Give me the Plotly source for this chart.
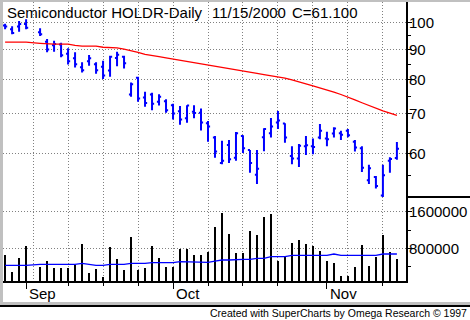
import math
import plotly.graph_objects as go

# ---- data (trading-day slots; slot 4 = Labor Day holiday gap) ----
slot = [0, 1, 2, 3, 5, 6, 7, 8, 9, 10, 11, 12, 13, 14, 15, 16, 17, 18, 19, 20,
        21, 22, 23, 24, 25, 26, 27, 28, 29, 30, 31, 32, 33, 34, 35, 36, 37, 38,
        39, 40, 41, 42, 43, 44, 45, 46, 47, 48, 49, 50, 51, 52, 53, 54, 55, 56]

open_ = [98.8, 97.4, 98.5, 99.4, 96.3, 92.8, 91.5, 91.8, 88.5, 87.0, 84.0, 86.0,
         85.0, 84.1, 82.9, 87.1, 87.5, 75.5, 80.6, 74.6, 75.5, 73.4, 73.5, 72.4,
         70.7, 68.8, 70.6, 70.3, 67.5, 63.8, 57.8, 62.0, 59.0, 64.2, 60.8, 55.2,
         63.9, 64.9, 67.7, 67.4, 59.4, 58.8, 61.7, 61.7, 63.8, 63.6, 64.8, 64.9,
         65.5, 62.8, 61.2, 54.0, 54.7, 50.9, 58.3, 58.9]
high = [99.5, 98.6, 100.6, 101.3, 97.8, 93.8, 93.1, 92.4, 90.4, 89.0, 85.6, 88.1,
        85.6, 86.1, 87.8, 89.2, 87.8, 79.1, 80.9, 76.3, 76.0, 75.6, 74.1, 72.8,
        72.2, 72.4, 72.4, 71.5, 68.1, 64.2, 63.0, 63.2, 65.2, 64.4, 60.8, 60.8,
        66.2, 68.9, 70.8, 67.5, 61.7, 62.2, 64.2, 63.6, 67.3, 65.3, 66.4, 65.5,
        66.0, 63.2, 61.7, 57.4, 54.9, 57.4, 59.1, 62.7]
low = [97.4, 95.5, 96.5, 97.4, 94.9, 89.0, 89.2, 87.3, 84.9, 83.9, 82.3, 84.5,
       81.9, 80.2, 80.9, 84.3, 83.6, 74.8, 73.4, 72.0, 71.0, 72.3, 70.3, 68.5,
       67.1, 67.6, 68.8, 65.6, 62.8, 59.0, 57.5, 57.8, 58.3, 60.1, 55.6, 53.2,
       60.5, 63.8, 66.0, 62.5, 57.5, 56.9, 59.6, 59.8, 63.4, 61.7, 63.8, 63.2,
       63.9, 60.4, 55.8, 53.2, 52.3, 50.6, 55.6, 58.5]
close = [98.5, 96.0, 99.4, 98.0, 95.5, 90.0, 92.0, 88.0, 86.0, 85.0, 83.0, 87.0,
         83.0, 81.3, 87.5, 88.2, 85.3, 78.6, 74.3, 73.0, 72.8, 74.8, 71.0, 70.1,
         68.5, 72.3, 70.2, 67.7, 66.6, 60.4, 58.3, 58.6, 64.9, 61.2, 57.8, 56.5,
         66.0, 66.6, 68.2, 63.8, 58.8, 61.8, 61.9, 61.5, 65.5, 63.4, 66.1, 64.5,
         64.4, 61.4, 56.7, 56.6, 52.8, 55.1, 58.7, 61.1]
price_ma = [92.6, 92.6, 92.6, 92.6, 92.2, 92.0, 91.9, 91.9, 91.9, 91.5, 91.2, 91.2,
            91.2, 90.8, 90.8, 90.6, 90.1, 89.6, 89.0, 88.3, 88.0, 87.5, 87.1, 86.7,
            86.3, 86.0, 85.6, 85.3, 84.9, 84.5, 84.0, 83.6, 83.2, 82.8, 82.4, 82.0,
            81.6, 81.2, 81.0, 80.5, 79.9, 79.2, 78.7, 78.1, 77.5, 76.9, 76.2, 75.5,
            74.8, 73.9, 73.1, 72.3, 71.6, 70.8, 70.2, 69.6]
volume = [654000, 291000, 596000, 851000, 400000, 524000, 371000, 371000, 371000,
          443000, 902000, 269000, 349000, 182000, 822000, 574000, 327000, 1054000,
          327000, 371000, 851000, 589000, 400000, 400000, 792000, 792000, 654000,
          654000, 727000, 1273000, 1578000, 1120000, 705000, 705000, 1178000,
          1098000, 1491000, 1549000, 531000, 618000, 923000, 982000, 902000,
          851000, 749000, 524000, 487000, 196000, 196000, 393000, 873000, 415000,
          611000, 1091000, 720000, 567000]
volume_ma = [430000] * 4 + [450000] * 6 + [470000, 450000, 430000, 430000] + \
            [450000] * 3 + [470000] * 3 + [490000] * 4 + [510000] * 4 + \
            [495000, 520000, 545000, 545000, 560000, 560000, 560000, 582000, 582000,
             618000, 618000, 618000] + [647000] * 6 + [676000] + [647000] * 6 + \
            [676000] * 3

grid_slots = [4, 9, 14, 19, 24, 29, 34, 39, 44, 49, 54]
month_slots = [3, 24, 46]
month_labels = ["Sep", "Oct", "Nov"]
week_slots = [9, 14, 19, 29, 34, 39, 54]
price_ticks = [60, 70, 80, 90, 100]
price_minor = [55, 65, 75, 85, 95]
vol_ticks = [800000, 1600000]
vol_minor = [400000, 1200000]
title_parts = ["Semiconductor HOLDR-Daily", "11/15/2000", "C=61.100"]
caption = "Created with SuperCharts by Omega Research \u00a9 1997"

# ---- geometry helpers (pixel -> paper) ----
W, H = 470, 320
L, R, T, B = 3, 64, 2, 39
PW, PH = W - L - R, H - T - B


def px(x):
    return (x - L) / PW


def py(y):
    return (H - B - y) / PH


split = py(197)
FONT = "Liberation Sans, Arial, sans-serif"
GRID = dict(showgrid=True, gridcolor="#808080", gridwidth=1, griddash="1px,2px")
xrange_ = [-0.3, 57.3]

fig = go.Figure()
fig.add_trace(go.Ohlc(x=slot, open=open_, high=high, low=low, close=close,
                      xaxis="x", yaxis="y",
                      increasing=dict(line=dict(color="#0000ff", width=2)),
                      decreasing=dict(line=dict(color="#0000ff", width=2)),
                      tickwidth=0.3, hoverinfo="skip"))
fig.add_trace(go.Scatter(x=slot, y=price_ma, mode="lines", xaxis="x", yaxis="y",
                         line=dict(color="#ff0000", width=1.3), hoverinfo="skip"))
fig.add_trace(go.Bar(x=slot, y=volume, xaxis="x", yaxis="y2", width=0.29,
                     marker=dict(color="#000000", line=dict(width=0)),
                     hoverinfo="skip"))
fig.add_trace(go.Scatter(x=slot, y=volume_ma, mode="lines", xaxis="x2", yaxis="y2",
                         line=dict(color="#0000ff", width=1.3), hoverinfo="skip"))

fig.update_layout(
    width=W, height=H, margin=dict(l=L, r=R, t=T, b=B, pad=0),
    paper_bgcolor="white", plot_bgcolor="white", showlegend=False,
    template="none", font=dict(family=FONT, size=15, color="black"),
    xaxis=dict(domain=[0, 1], anchor="y2", range=xrange_, tickmode="array",
               tickvals=grid_slots, ticks="", showticklabels=False,
               showline=True, linecolor="black", linewidth=2, zeroline=False,
               rangeslider=dict(visible=False), **GRID),
    xaxis2=dict(overlaying="x", anchor="y2", range=xrange_, tickmode="array",
                tickvals=month_slots, ticks="outside", ticklen=7, tickwidth=1,
                tickcolor="black", showticklabels=False, showgrid=False,
                showline=False, zeroline=False,
                minor=dict(tickmode="array", tickvals=week_slots, ticks="outside",
                           ticklen=4, tickwidth=1, tickcolor="black", showgrid=False),
                rangeslider=dict(visible=False)),
    yaxis=dict(domain=[split, 1], type="log", side="right",
               range=[math.log10(50.59), math.log10(108.35)],
               tickmode="array", tickvals=price_ticks,
               ticktext=[str(v) for v in price_ticks],
               ticks="outside", ticklen=4, tickwidth=1, tickcolor="black",
               ticklabelstandoff=-6,
               showline=True, linecolor="black", linewidth=2, zeroline=False,
               tickfont=dict(size=15, family=FONT, color="black"),
               minor=dict(tickmode="array", tickvals=price_minor, ticks="outside",
                          ticklen=3, tickwidth=1, tickcolor="black", showgrid=False),
               **GRID),
    yaxis2=dict(domain=[0, split], side="right", range=[87000, 1920000],
                tickmode="array", tickvals=vol_ticks,
                ticktext=[str(v) for v in vol_ticks],
                ticks="outside", ticklen=4, tickwidth=1, tickcolor="black",
                ticklabelstandoff=-6,
                showline=True, linecolor="black", linewidth=2, zeroline=False,
                tickfont=dict(size=15, family=FONT, color="black"),
                minor=dict(tickmode="array", tickvals=vol_minor, ticks="outside",
                           ticklen=3, tickwidth=1, tickcolor="black", showgrid=False),
                **GRID),
    bargap=0,
)

shapes = [
    # window frame: left and top gray strips, bottom gray band + black rule
    dict(type="rect", xref="paper", yref="paper", x0=px(0), x1=px(3), y0=py(305),
         y1=py(0), fillcolor="#c0c0c0", line=dict(width=0), layer="above"),
    dict(type="rect", xref="paper", yref="paper", x0=px(0), x1=px(W), y0=py(2),
         y1=py(0), fillcolor="#c0c0c0", line=dict(width=0), layer="above"),
    dict(type="rect", xref="paper", yref="paper", x0=px(0), x1=px(W), y0=py(305),
         y1=py(302), fillcolor="#c0c0c0", line=dict(width=0), layer="above"),
    dict(type="rect", xref="paper", yref="paper", x0=px(0), x1=px(W), y0=py(307),
         y1=py(305), fillcolor="#000000", line=dict(width=0), layer="above"),
    # separator between panels in the right scale area
    dict(type="line", xref="paper", yref="paper", x0=1, x1=px(W), y0=split,
         y1=split, line=dict(color="black", width=2)),
]
fig.update_layout(shapes=shapes)

ann = []
for txt, xp in zip(title_parts, [5, 210, 290]):
    ann.append(dict(text=txt, xref="paper", yref="paper", x=px(xp), y=py(12.5),
                    xanchor="left", yanchor="middle", showarrow=False,
                    font=dict(size=15, family=FONT, color="black")))
for s, lab in zip(month_slots, month_labels):
    ann.append(dict(text=lab, xref="x", yref="paper", x=s, xshift=1, y=py(293),
                    xanchor="left", yanchor="middle", showarrow=False,
                    font=dict(size=15, family=FONT, color="black")))
ann.append(dict(text=caption, xref="paper", yref="paper", x=px(469), y=py(313),
                xanchor="right", yanchor="middle", showarrow=False,
                font=dict(size=10.5, family=FONT, color="black")))
fig.update_layout(annotations=ann)

fig.write_html("out.html", config={"displayModeBar": False})
